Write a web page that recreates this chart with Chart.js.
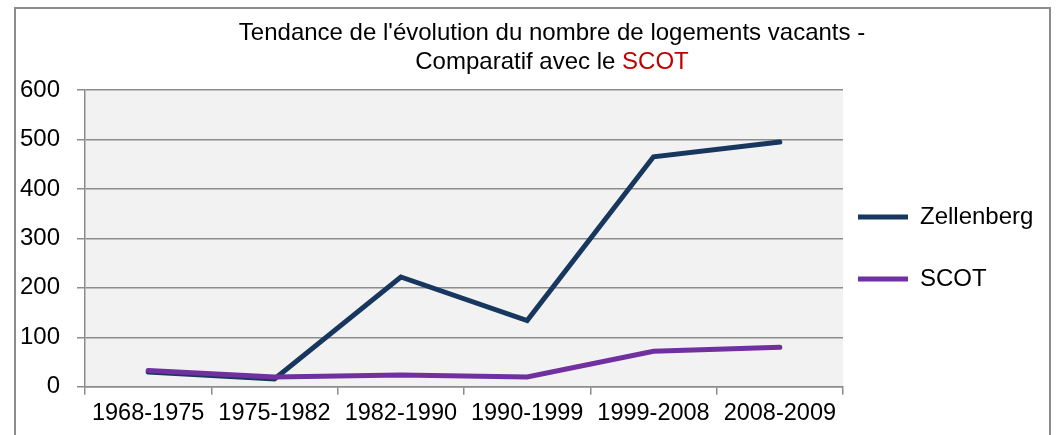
<!DOCTYPE html>
<html>
<head>
<meta charset="utf-8">
<script src="https://cdn.jsdelivr.net/npm/chart.js@4/dist/chart.umd.min.js"></script>
<style>
  html, body { margin: 0; padding: 0; background: #ffffff; }
  #wrap { position: relative; width: 1059px; height: 435px; }
</style>
</head>
<body>
<div id="wrap"><canvas id="c" width="1059" height="435"></canvas></div>
<script>
const categories = ['1968-1975', '1975-1982', '1982-1990', '1990-1999', '1999-2008', '2008-2009'];
const zellenberg = [30, 16, 222, 134, 465, 495];
const scot = [33, 20, 24, 20, 72, 80];
const yTicks = [0, 100, 200, 300, 400, 500, 600];
const titleLine1 = "Tendance de l'évolution du nombre de logements vacants -";
const titleLine2a = 'Comparatif avec le ';
const titleLine2b = 'SCOT';

const FONT = '"Liberation Sans", Arial, sans-serif';

const framePlugin = {
  id: 'frame',
  beforeDraw(chart) {
    const ctx = chart.ctx;
    const a = chart.chartArea;
    ctx.save();
    ctx.fillStyle = '#f2f2f2';
    ctx.fillRect(a.left, a.top, a.right - a.left, a.bottom - a.top);
    ctx.strokeStyle = '#8c8c8c';
    ctx.lineWidth = 2;
    ctx.beginPath();
    ctx.moveTo(15, 440); ctx.lineTo(15, 8); ctx.lineTo(1050, 8); ctx.lineTo(1050, 440);
    ctx.stroke();
    ctx.restore();
  },
  afterDraw(chart) {
    const ctx = chart.ctx;
    ctx.save();
    ctx.font = '24px ' + FONT;
    ctx.textBaseline = 'middle';
    ctx.textAlign = 'center';
    ctx.fillStyle = '#000000';
    const cx = 552;
    ctx.fillText(titleLine1, cx, 33);
    const wa = ctx.measureText(titleLine2a).width;
    const wb = ctx.measureText(titleLine2b).width;
    const start = cx - (wa + wb) / 2;
    ctx.textAlign = 'left';
    ctx.fillText(titleLine2a, start, 62);
    ctx.fillStyle = '#c00000';
    ctx.fillText(titleLine2b, start + wa, 62);
    ctx.restore();
  }
};

const legendPlace = {
  id: 'legendPlace',
  afterLayout(chart) {
    const lg = chart.legend;
    if (!lg) return;
    const w = lg.width, h = lg.height;
    lg.left = 820; lg.right = 820 + w;
    lg.top = 167; lg.bottom = 167 + h;
  }
};

new Chart(document.getElementById('c'), {
  type: 'line',
  data: {
    labels: categories,
    datasets: [
      { label: 'Zellenberg', data: zellenberg, borderColor: '#17375e', backgroundColor: '#17375e',
        borderWidth: 5, pointRadius: 0, tension: 0, borderCapStyle: 'round', borderJoinStyle: 'miter', order: 1 },
      { label: 'SCOT', data: scot, borderColor: '#7030a0', backgroundColor: '#7030a0',
        borderWidth: 5, pointRadius: 0, tension: 0, borderCapStyle: 'round', borderJoinStyle: 'miter', order: 0 }
    ]
  },
  options: {
    responsive: false,
    animation: false,
    devicePixelRatio: 1,
    layout: { padding: { top: 90, bottom: 2, left: 0, right: 0 } },
    plugins: {
      title: { display: false },
      tooltip: { enabled: false },
      legend: {
        display: true,
        position: 'right',
        align: 'start',
        maxWidth: 216,
        labels: {
          font: { family: FONT, size: 24 },
          color: '#000000',
          padding: 38,
          usePointStyle: true,
          pointStyle: 'line',
          pointStyleWidth: 50,
          boxHeight: 24,
          sort: (a, b) => a.datasetIndex - b.datasetIndex
        }
      }
    },
    scales: {
      x: {
        offset: true,
        grid: { display: true, drawOnChartArea: false, drawTicks: true, tickLength: 8, color: '#8c8c8c', lineWidth: 1.5, offset: true },
        border: { display: true, color: '#8c8c8c', width: 1.5 },
        ticks: { font: { family: FONT, size: 23.5 }, color: '#000000', padding: 5, maxRotation: 0, autoSkip: false }
      },
      y: {
        min: 0, max: 600,
        afterBuildTicks(scale) { scale.ticks = yTicks.map(v => ({ value: v })); },
        afterFit(scale) { scale.width = 85; },
        grid: { display: true, drawOnChartArea: true, drawTicks: true, tickLength: 8, color: '#8c8c8c', lineWidth: 1.5 },
        border: { display: true, color: '#8c8c8c', width: 1.5 },
        ticks: { font: { family: FONT, size: 24 }, color: '#000000', padding: 17 }
      }
    }
  },
  plugins: [framePlugin, legendPlace]
});
</script>
</body>
</html>
